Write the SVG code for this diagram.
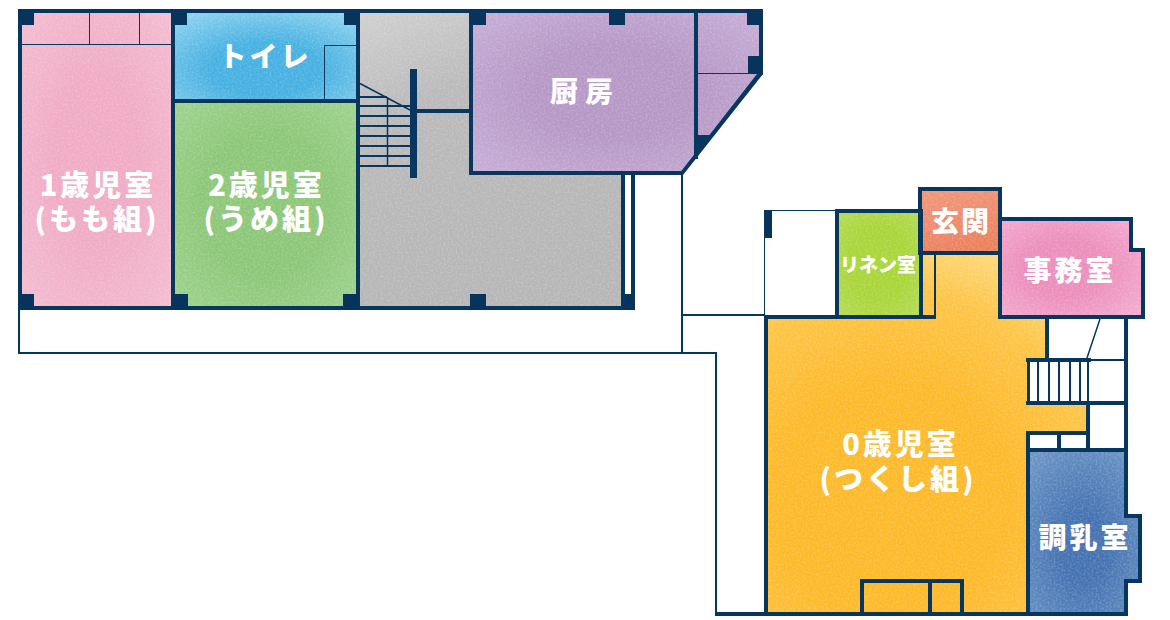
<svg xmlns="http://www.w3.org/2000/svg" width="1170" height="620" viewBox="0 0 1170 620">
<style>
.w{fill:#07375f}
.c{fill:#07345c}
.t{fill:none;stroke:#07375f}
.l{font-family:"Noto Sans CJK JP","Noto Sans",sans-serif;font-weight:900;fill:#fff;text-anchor:middle;font-size:28px}
.x{font-size:29px}
.s{font-size:19px}
</style>
<defs>
<filter id="n" x="0" y="0" width="100%" height="100%" color-interpolation-filters="sRGB">
<feTurbulence type="fractalNoise" baseFrequency=".5" numOctaves="2" seed="4" result="f"/>
<feColorMatrix in="f" type="matrix" values="0 0 0 0 1  0 0 0 0 1  0 0 0 0 1  .45 0 0 0 -.17" result="a"/>
<feComposite in="a" in2="SourceGraphic" operator="in" result="b"/>
<feMerge><feMergeNode in="SourceGraphic"/><feMergeNode in="b"/></feMerge>
</filter>
<radialGradient id="gp" cx=".5" cy=".5" r=".7"><stop offset=".4" stop-color="#f0abc4"/><stop offset="1" stop-color="#f4bdd1"/></radialGradient>
<radialGradient id="gb" cx=".5" cy=".65" r=".75"><stop offset=".4" stop-color="#45b0e1"/><stop offset="1" stop-color="#8ed3f0"/></radialGradient>
<radialGradient id="gg" cx=".5" cy=".5" r=".7"><stop offset=".5" stop-color="#8cc778"/><stop offset="1" stop-color="#9ed38d"/></radialGradient>
<linearGradient id="gy" x1="0" y1="0" x2=".35" y2="1"><stop offset="0" stop-color="#d0d0d0"/><stop offset=".35" stop-color="#b9b9b9"/><stop offset="1" stop-color="#b6b6b6"/></linearGradient>
<radialGradient id="gv" cx=".5" cy=".5" r=".7"><stop offset=".4" stop-color="#b697c6"/><stop offset="1" stop-color="#c6aed6"/></radialGradient>
<radialGradient id="go" gradientUnits="userSpaceOnUse" cx="890" cy="500" r="260"><stop offset=".45" stop-color="#fdb928"/><stop offset=".8" stop-color="#fdc445"/><stop offset="1" stop-color="#fed676"/></radialGradient>
<radialGradient id="gl" cx=".5" cy=".5" r=".7"><stop offset=".5" stop-color="#a8d637"/><stop offset="1" stop-color="#b5db58"/></radialGradient>
<linearGradient id="ge" x1="0" y1="0" x2=".3" y2="1"><stop offset="0" stop-color="#f2967b"/><stop offset="1" stop-color="#eb805c"/></linearGradient>
<radialGradient id="gj" cx=".45" cy=".5" r=".7"><stop offset=".4" stop-color="#ec8dbb"/><stop offset="1" stop-color="#f4acd0"/></radialGradient>
<radialGradient id="gd" cx=".5" cy=".6" r=".7"><stop offset=".3" stop-color="#4371b1"/><stop offset="1" stop-color="#6a93c5"/></radialGradient>
</defs>

<g id="room-1sai"><rect x="20" y="11" width="153" height="297" fill="url(#gp)" filter="url(#n)"/><text class="l x"><tspan x="98" y="196" letter-spacing="3">1歳児室</tspan><tspan x="97" y="230" letter-spacing="3">(もも組)</tspan></text></g>
<g id="room-toilet"><rect x="173" y="11" width="185" height="90" fill="url(#gb)" filter="url(#n)"/><text class="l" x="265" y="67" letter-spacing="3">トイレ</text></g>
<g id="room-2sai"><rect x="173" y="101" width="185" height="207" fill="url(#gg)" filter="url(#n)"/><text class="l x"><tspan x="266.500" y="196" letter-spacing="3">2歳児室</tspan><tspan x="266" y="230" letter-spacing="3">(うめ組)</tspan></text></g>
<g id="room-hall"><rect x="358" y="11" width="265" height="297" fill="url(#gy)" filter="url(#n)"/></g>
<g id="room-kitchen"><path d="M471 11H761V72L682 173H471Z" fill="url(#gv)" filter="url(#n)"/><text class="l" x="585" y="102" letter-spacing="7">厨房</text></g>
<g id="room-0sai"><path d="M921 253H1000V317H1047V360H1028V403H1088V433H1028V614H766V317H921Z" fill="url(#go)" filter="url(#n)"/><text class="l x"><tspan x="900.500" y="455" letter-spacing="3">0歳児室</tspan><tspan x="898" y="490" letter-spacing="3">(つくし組)</tspan></text></g>
<g id="room-linen"><rect x="837" y="211" width="84" height="105" fill="url(#gl)" filter="url(#n)"/><text class="l s" x="878" y="272">リネン室</text></g>
<g id="room-entrance"><rect x="920" y="189" width="80" height="64" fill="url(#ge)" filter="url(#n)"/><text class="l" x="961" y="232" letter-spacing="2">玄関</text></g>
<g id="room-office"><path d="M1000 219H1131V250H1143V317H1000Z" fill="url(#gj)" filter="url(#n)"/><text class="l" x="1070" y="281" letter-spacing="3">事務室</text></g>
<g id="room-milk"><path d="M1028 450H1126V516H1140V581H1126V614H1028Z" fill="url(#gd)" filter="url(#n)"/><text class="l" x="1085" y="548" letter-spacing="3">調乳室</text></g>

<g id="walls">
<rect class="w" x="18" y="9" width="745" height="4"/>
<rect class="w" x="18" y="9" width="4" height="301"/>
<rect class="w" x="171" y="9" width="4" height="301"/>
<rect class="w" x="356" y="9" width="4" height="301"/>
<rect class="w" x="175" y="99" width="181" height="4"/>
<rect class="w" x="18" y="306" width="617" height="4"/>
<rect class="w" x="621" y="175" width="4" height="135"/>
<rect class="w" x="631" y="175" width="4" height="135"/>
<rect class="w" x="469" y="9" width="4" height="166"/>
<rect class="w" x="469" y="171" width="214" height="4"/>
<rect class="w" x="694" y="9" width="4" height="150"/>
<rect class="w" x="759" y="9" width="4" height="66"/>
<path class="w" d="M763 74H757L679 174L683 175Z"/>
<path class="w" d="M698 135H710L696 155L698 148Z"/>
<rect class="w" x="417" y="109" width="52" height="4"/>
<rect class="c" x="18" y="9" width="16" height="16"/>
<rect class="c" x="171" y="9" width="16" height="16"/>
<rect class="c" x="344" y="9" width="16" height="16"/>
<rect class="c" x="469" y="9" width="17" height="16"/>
<rect class="c" x="609" y="9" width="16" height="16"/>
<rect class="c" x="747" y="9" width="16" height="16"/>
<rect class="c" x="748" y="56" width="15" height="18"/>
<rect class="c" x="18" y="294" width="16" height="16"/>
<rect class="c" x="172" y="294" width="16" height="16"/>
<rect class="c" x="343" y="294" width="16" height="16"/>
<rect class="c" x="470" y="294" width="16" height="16"/>
<rect class="c" x="625" y="294" width="8" height="16"/>
<rect class="c" x="764" y="210" width="8" height="28"/>
<rect class="w" x="835" y="209" width="85" height="4"/>
<rect class="w" x="835" y="209" width="4" height="110"/>
<rect class="w" x="919" y="209" width="4" height="110"/>
<path class="w" fill-rule="evenodd" d="M918 187H1002V255H918ZM922 191V251H998V191Z"/>
<path class="w" fill-rule="evenodd" d="M998 217H1133V248H1145V319H998ZM1002 221V315H1141V252H1129V221Z"/>
<rect class="w" x="764" y="315" width="172" height="4"/>
<rect class="w" x="934" y="253" width="2" height="66"/>
<rect class="w" x="764" y="315" width="4" height="301"/>
<rect class="w" x="715" y="612" width="413" height="4"/>
<rect class="w" x="1045" y="319" width="4" height="40"/>
<rect class="w" x="1124" y="319" width="4" height="199"/>
<rect class="w" x="1124" y="579" width="4" height="37"/>
<rect class="w" x="1026" y="358" width="65" height="4"/>
<rect class="w" x="1091" y="359" width="33" height="2"/>
<rect class="w" x="1026" y="401" width="98" height="4"/>
<rect class="w" x="1027" y="362" width="3" height="40"/>
<rect class="w" x="1037" y="362" width="2" height="40"/>
<rect class="w" x="1048" y="362" width="2" height="40"/>
<rect class="w" x="1058" y="362" width="2" height="40"/>
<rect class="w" x="1069" y="362" width="2" height="40"/>
<rect class="w" x="1079" y="362" width="2" height="40"/>
<rect class="w" x="1087" y="362" width="2" height="40"/>
<rect class="w" x="1086" y="405" width="4" height="45"/>
<rect class="w" x="1026" y="431" width="64" height="4"/>
<rect class="w" x="1057" y="431" width="4" height="20"/>
<rect class="w" x="1026" y="448" width="102" height="4"/>
<rect class="w" x="1026" y="431" width="4" height="185"/>
<path class="w" d="M1124 514H1142V583H1124V579H1138V518H1124Z"/>
<path class="t" stroke-width="4" d="M862 612V581H962V612M930 581V612"/>
<path class="t" stroke-width="1.500" d="M1100 319L1087 358"/>
</g>

<g id="stairs">
<rect class="w" x="410" y="69" width="7" height="109"/>
<path class="t" stroke-width="2" d="M360 97H387M360 106H410M360 116H410M360 126H410M360 136H410M360 146H410M360 156H410M360 166H410"/>
<path class="t" stroke-width="1.500" d="M360 83.500L410 110M387.500 97V166"/>
</g>

<g id="connectors">
<path class="t" stroke-width="1" d="M22 44.500H171M89.500 13V44M139.500 13V44M324.500 99V45.500H356M698 73.500H757M764.500 210V315M764 210.500H836"/>
<path class="t" stroke-width="2" d="M19 310V353H716V615M682 175V353M683 315H764"/>
</g>
</svg>
